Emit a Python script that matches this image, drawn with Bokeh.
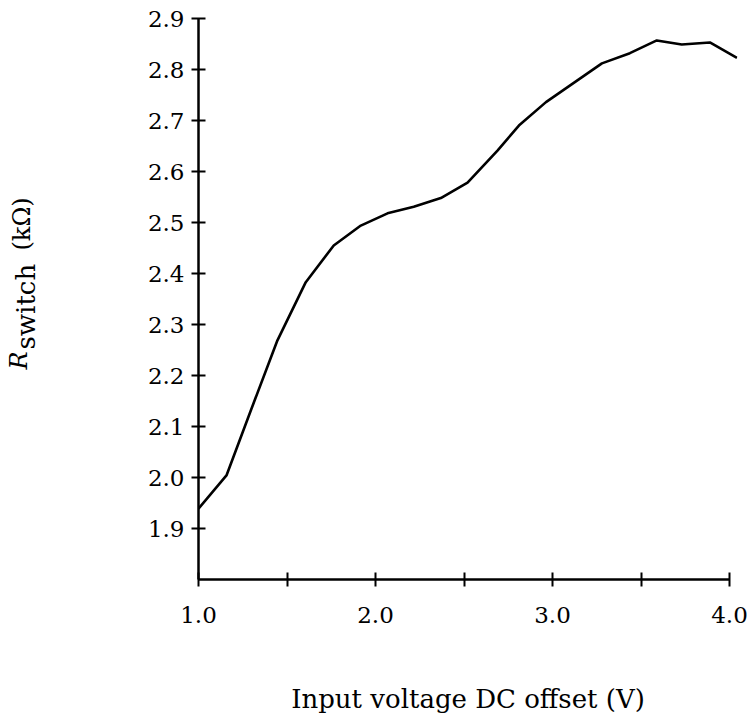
import math
from bokeh.plotting import figure
from bokeh.layouts import row
from bokeh.models import FixedTicker, Label, Range1d
from bokeh.embed import file_html
from bokeh.resources import INLINE

# Data
voltage = [1.00, 1.158, 1.295, 1.446, 1.606, 1.764, 1.917, 2.068, 2.216, 2.369,
           2.520, 2.689, 2.810, 2.963, 3.279, 3.437, 3.589, 3.730, 3.889, 4.042]
r_switch = [1.939, 2.004, 2.131, 2.269, 2.383, 2.455, 2.494, 2.518, 2.531, 2.548,
            2.578, 2.641, 2.690, 2.736, 2.812, 2.832, 2.857, 2.849, 2.853, 2.823]

x_ticks = [1.0, 2.0, 3.0, 4.0]
x_minor_ticks = [1.5, 2.5, 3.5]
y_ticks = [1.9, 2.0, 2.1, 2.2, 2.3, 2.4, 2.5, 2.6, 2.7, 2.8, 2.9]
x_title = "Input voltage DC offset (V)"

FONT = "DejaVu Serif"
H = 721
LW = 48  # width of the narrow strip that holds the y-axis title

# --- strip holding the rotated y-axis title  R_switch (kΩ) ---
t = figure(width=LW, height=H, output_backend="svg", toolbar_location=None,
           x_range=Range1d(0, LW), y_range=Range1d(0, H),
           x_axis_location=None, y_axis_location=None,
           min_border=0, min_border_left=0, min_border_right=0,
           min_border_top=0, min_border_bottom=0)
t.outline_line_color = None
t.xgrid.visible = False
t.ygrid.visible = False

def ylab(text, px, py, size, style="normal"):
    t.add_layout(Label(x=px, y=py, x_units="canvas", y_units="canvas",
                       text=text, angle=math.pi / 2,
                       text_align="left", text_baseline="alphabetic",
                       text_font=FONT, text_font_size=size,
                       text_font_style=style, text_color="black"))

ylab("R", 18, 369, "24px", "italic")
ylab("switch", 25, 349, "26px")
ylab("(kΩ)", 21, 250, "24px")

# --- main plot ---
p = figure(width=750 - LW, height=H, output_backend="svg", toolbar_location=None,
           x_range=Range1d(1.0, 4.045), y_range=Range1d(1.8, 2.9),
           min_border_left=198 - LW, min_border_right=13, min_border_top=18,
           min_border_bottom=H - 579)
p.outline_line_color = None
p.xgrid.visible = False
p.ygrid.visible = False

p.line(voltage, r_switch, line_color="black", line_width=2.6)

xa = p.xaxis[0]
xa.ticker = FixedTicker(ticks=x_ticks, minor_ticks=x_minor_ticks)
xa.bounds = (1.0, 4.0)
xa.axis_line_width = 2.5
xa.axis_line_color = "black"
xa.major_tick_line_width = 2
xa.minor_tick_line_width = 2
xa.major_tick_in = 7
xa.major_tick_out = 7
xa.minor_tick_in = 7
xa.minor_tick_out = 7
xa.major_label_standoff = 20
xa.major_label_text_font = FONT
xa.major_label_text_font_size = "23px"
xa.major_label_text_color = "black"
xa.major_label_overrides = {1.0: "1.0", 2.0: "2.0", 3.0: "3.0", 4.0: "4.0"}
xa.axis_label = x_title
xa.axis_label_text_font = FONT
xa.axis_label_text_font_size = "26px"
xa.axis_label_text_font_style = "normal"
xa.axis_label_text_color = "black"
xa.axis_label_standoff = 58

ya = p.yaxis[0]
ya.ticker = FixedTicker(ticks=y_ticks)
ya.bounds = (1.8, 2.9)
ya.axis_line_width = 2.5
ya.axis_line_color = "black"
ya.major_tick_line_width = 2
ya.major_tick_in = 7
ya.major_tick_out = 7
ya.minor_tick_line_color = None
ya.major_label_standoff = 7
ya.major_label_text_font = FONT
ya.major_label_text_font_size = "23px"
ya.major_label_text_color = "black"
ya.major_label_overrides = {v: f"{v:.1f}" for v in y_ticks}

layout = row(t, p)
open("out.html", "w").write(file_html(layout, INLINE))
